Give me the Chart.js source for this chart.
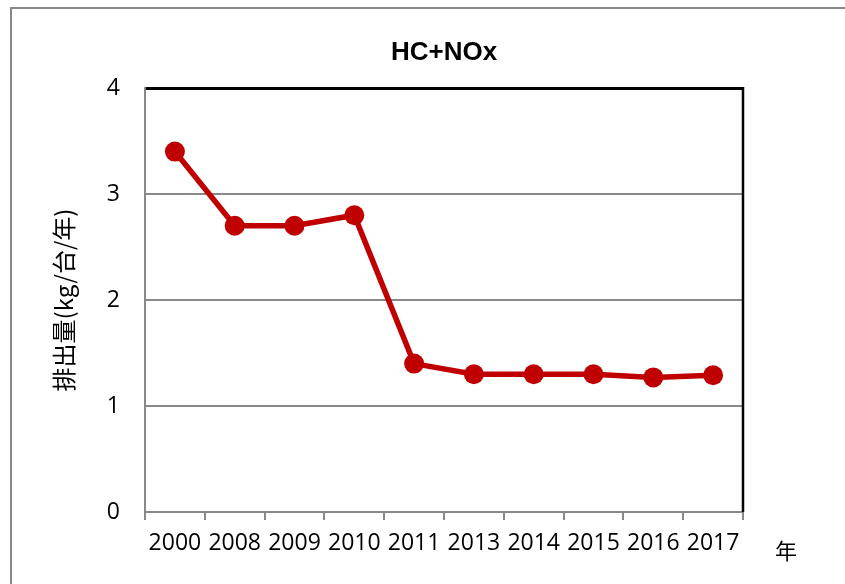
<!DOCTYPE html>
<html>
<head>
<meta charset="utf-8">
<script src="https://cdn.jsdelivr.net/npm/chart.js@4.4.0/dist/chart.umd.min.js"></script>
<style>
  html, body { margin: 0; padding: 0; background: #fff; }
  #wrap { width: 845px; height: 584px; }
</style>
</head>
<body>
<div id="wrap"><canvas id="hcChart" width="845" height="584"></canvas></div>
<script>
// data
const years = ['2000', '2008', '2009', '2010', '2011', '2013', '2014', '2015', '2016', '2017'];
const emissions = [3.4, 2.7, 2.7, 2.8, 1.4, 1.3, 1.3, 1.3, 1.27, 1.29];
const yTicks = [0, 1, 2, 3, 4];

const chartTitle = 'HC+NOx';
const yTitle = '排出量(kg/台/年)';
const xUnit = '年';

const red = '#C00000';
const gray = '#888888';
const tickFont = { family: '"Open Sans", sans-serif', size: 23 };

// frame lines, title, right border of the plot and the "年" label
const extras = {
  id: 'extras',
  beforeDraw(chart) {
    const c = chart.ctx;
    c.save();
    c.strokeStyle = gray;
    c.lineWidth = 2;
    c.beginPath();
    c.moveTo(11, 584);
    c.lineTo(11, 8);
    c.lineTo(845, 8);
    c.stroke();
    c.fillStyle = '#000';
    c.font = 'bold 26px "Liberation Sans", Arial, sans-serif';
    c.textAlign = 'center';
    c.textBaseline = 'middle';
    c.fillText(chartTitle, 444, 53);
    c.restore();
  },
  afterDatasetsDraw(chart) {
    const a = chart.chartArea;
    const c = chart.ctx;
    c.save();
    c.strokeStyle = '#000';
    c.lineWidth = 2.5;
    c.beginPath();
    c.moveTo(a.right, a.top - 1);
    c.lineTo(a.right, a.bottom);
    c.stroke();
    c.fillStyle = '#000';
    c.font = '22px "Noto Sans CJK JP", sans-serif';
    c.textAlign = 'center';
    c.textBaseline = 'middle';
    c.fillText(xUnit, 786, 551);
    c.restore();
  }
};

new Chart(document.getElementById('hcChart'), {
  type: 'line',
  data: {
    labels: years,
    datasets: [{
      data: emissions,
      borderColor: red,
      backgroundColor: red,
      borderWidth: 5.5,
      pointRadius: 10,
      pointHoverRadius: 10,
      pointBorderWidth: 0,
      pointBackgroundColor: red,
      tension: 0,
    }]
  },
  options: {
    responsive: false,
    animation: false,
    events: [],
    layout: { padding: { left: 0, right: 102, top: 88, bottom: 0 } },
    plugins: {
      legend: { display: false },
      tooltip: { enabled: false },
      title: { display: false },
    },
    scales: {
      x: {
        offset: true,
        afterFit(scale) { scale.height = 72; },
        grid: {
          offset: true,
          drawOnChartArea: false,
          tickLength: 8,
          color: gray,
          lineWidth: 2,
        },
        border: { color: gray, width: 2 },
        ticks: { color: '#000', font: tickFont, padding: 10, maxRotation: 0, autoSkip: false },
      },
      y: {
        min: 0,
        max: 4,
        afterFit(scale) { scale.width = 145; },
        afterBuildTicks(scale) { scale.ticks = yTicks.map(v => ({ value: v })); },
        grid: {
          drawTicks: false,
          color: ctx => (ctx.tick && ctx.tick.value === 4 ? '#000' : gray),
          lineWidth: ctx => (ctx.tick && ctx.tick.value === 4 ? 3 : 2),
        },
        border: { color: gray, width: 2 },
        ticks: { color: '#000', font: tickFont, padding: 25 },
        title: {
          display: true,
          text: yTitle,
          color: '#000',
          font: { family: '"Noto Sans CJK JP", sans-serif', size: 24 },
          padding: { top: 49, bottom: 0 },
        },
      },
    },
  },
  plugins: [extras],
});
</script>
</body>
</html>
